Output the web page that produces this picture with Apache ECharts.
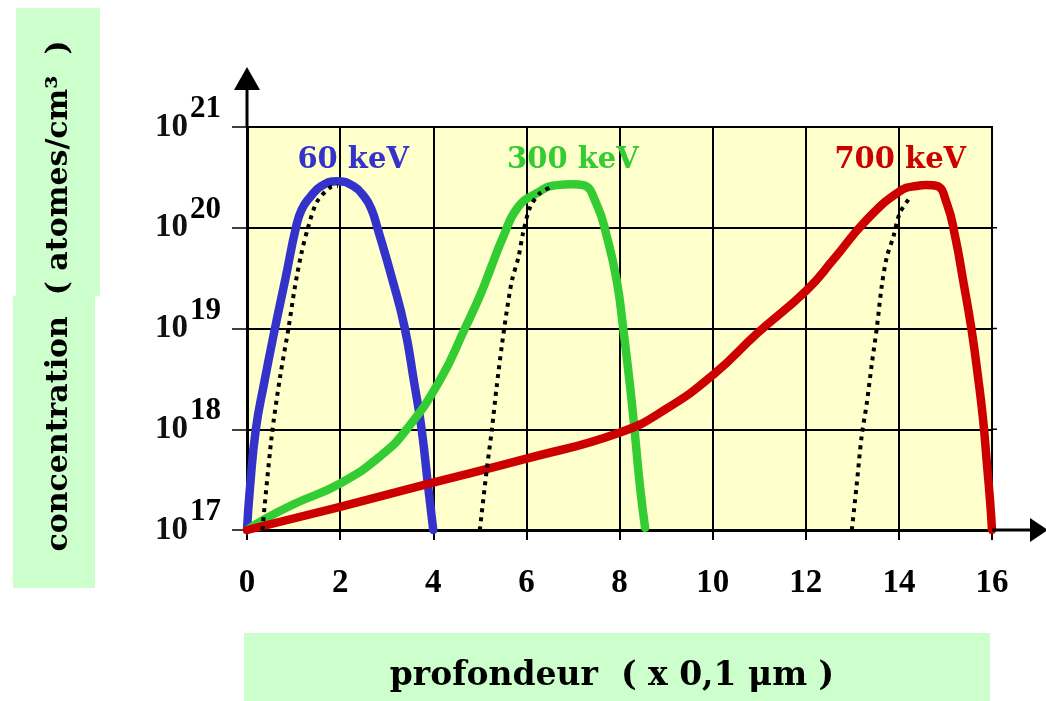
<!DOCTYPE html>
<html><head><meta charset="utf-8">
<script src="https://cdn.jsdelivr.net/npm/echarts@6/dist/echarts.min.js"></script>
<style>html,body{margin:0;padding:0;background:#fff}#c{width:1046px;height:701px}</style>
</head><body><div id="c"></div>
<script>
// ---- data (depth in units of 0.1 µm, concentration in atoms/cm³) ----
const xTicks = [0, 2, 4, 6, 8, 10, 12, 14, 16];
const yTicks = [1e17, 1e18, 1e19, 1e20, 1e21];

const kev60X = [0, 0.06, 0.19, 0.37, 0.6, 0.83, 1.05, 1.17, 1.35, 1.6, 1.93, 2.28, 2.53, 2.68, 2.8, 3.11, 3.39, 3.59, 3.75, 3.89, 4.0];
const kev60Y = [1e17, 2.5e17, 1e18, 2.9e18, 1e19, 3.2e19, 1e20, 1.5e20, 2.0e20, 2.6e20, 2.9e20, 2.6e20, 2.0e20, 1.5e20, 1e20, 3.2e19, 1e19, 2.9e18, 1e18, 2.7e17, 1e17];

const kev300X = [0, 0.35, 1.0, 2.0, 2.86, 3.43, 4.15, 4.68, 5.0, 5.22, 5.5, 5.82, 6.22, 6.65, 7.0, 7.22, 7.51, 7.73, 7.94, 8.08, 8.23, 8.33, 8.44, 8.55];
const kev300Y = [1e17, 1.26e17, 1.8e17, 2.9e17, 5.4e17, 1.0e18, 3.1e18, 1e19, 2.1e19, 3.8e19, 8.1e19, 1.6e20, 2.2e20, 2.65e20, 2.7e20, 2.65e20, 1.7e20, 8.1e19, 3.0e19, 1e19, 2.6e18, 9.1e17, 2.7e17, 1.05e17];

const kev700X = [0, 2.0, 3.93, 6.0, 8.01, 9.01, 10.05, 10.95, 12.02, 12.59, 13.31, 14.02, 14.38, 14.6, 14.81, 15.03, 15.21, 15.38, 15.56, 15.7, 15.81, 15.89, 15.96, 16.0];
const kev700Y = [1e17, 1.7e17, 2.9e17, 5.1e17, 9.3e17, 1.6e18, 3.6e18, 8.9e18, 2.4e19, 4.8e19, 1.2e20, 2.3e20, 2.6e20, 2.65e20, 2.6e20, 1.74e20, 8.1e19, 3.0e19, 9.8e18, 3.3e18, 1.23e18, 4.6e17, 1.9e17, 1e17];

const gauss60X = [0.33, 0.53, 0.71, 0.89, 1.03, 1.17, 1.31, 1.5, 1.78, 1.95];
const gauss60Y = [1e17, 8.5e17, 3.3e18, 1e19, 2.6e19, 5.6e19, 1.0e20, 1.8e20, 2.5e20, 2.6e20];

const gauss300X = [5.0, 5.15, 5.26, 5.36, 5.47, 5.58, 5.69, 5.83, 5.93, 6.08, 6.29, 6.58];
const gauss300Y = [1e17, 4e17, 1e18, 2.6e18, 6.6e18, 1.5e19, 3.0e19, 5.1e19, 8.9e19, 1.6e20, 2.2e20, 2.6e20];

const gauss700X = [12.99, 13.09, 13.2, 13.31, 13.42, 13.53, 13.63, 13.74, 13.88, 14.02, 14.24];
const gauss700Y = [1e17, 2.7e17, 8.5e17, 1.8e18, 4.5e18, 1.05e19, 2.6e19, 5.1e19, 8.1e19, 1.4e20, 2.0e20];

const energyLabels = ['60 keV', '300 keV', '700 keV'];
const energyLabelX = [2.28, 7.0, 14.03];
const energyLabelY = [4.7e20, 4.7e20, 4.7e20];
const xTitle = 'profondeur  ( x 0,1 \u03BCm )';
const yTitle = 'concentration  ( atomes/cm\u00B3  )';

// ---- layout ----
const G = {left: 247, top: 127, width: 745, height: 403};
const SERIF = '"Liberation Serif", "DejaVu Serif", serif';
const WIDE = '"DejaVu Serif", serif';
const pairs = (xs, ys) => xs.map((x, i) => [x, ys[i]]);

const chart = echarts.init(document.getElementById('c'), null, {renderer: 'canvas'});

function lineSeries(name, xs, ys, color, width, dotted) {
  return {
    name, type: 'line', data: pairs(xs, ys), smooth: dotted ? 0.3 : 0.5, symbol: 'none',
    lineStyle: {color, width, type: dotted ? [4, 5] : 'solid', cap: dotted ? 'butt' : 'round', join: 'round'},
    clip: false, silent: true, animation: false
  };
}

const B = G.left + G.width, Bt = G.top + G.height;
const option = {
  animation: false,
  backgroundColor: '#ffffff',
  grid: {left: G.left, top: G.top, width: G.width, height: G.height, show: true,
         backgroundColor: '#ffffcc', borderColor: '#000', borderWidth: 2},
  xAxis: {
    type: 'value', min: xTicks[0], max: xTicks[xTicks.length - 1], interval: 2,
    axisLine: {lineStyle: {color: '#000', width: 3}},
    axisTick: {show: true, length: 10, lineStyle: {color: '#000', width: 2}},
    splitLine: {show: true, lineStyle: {color: '#000', width: 2}},
    axisLabel: {margin: 37, color: '#000', fontFamily: SERIF, fontWeight: 'bold', fontSize: 33}
  },
  yAxis: {
    type: 'log', logBase: 10, min: yTicks[0], max: yTicks[yTicks.length - 1],
    axisLine: {show: true, lineStyle: {color: '#000', width: 3}},
    axisTick: {show: true, length: 15, lineStyle: {color: '#000', width: 1.5}},
    minorTick: {show: false},
    splitLine: {show: true, lineStyle: {color: '#000', width: 2}},
    axisLabel: {
      margin: 26, color: '#000',
      formatter: v => '{b|10}{s|' + Math.round(Math.log10(v)) + '}',
      rich: {
        b: {fontFamily: SERIF, fontWeight: 'bold', fontSize: 33, color: '#111'},
        s: {fontFamily: SERIF, fontWeight: 'bold', fontSize: 31, color: '#000', padding: [0, 0, 36, 2]}
      }
    }
  },
  series: [
    lineSeries(energyLabels[0], kev60X, kev60Y, '#3333cc', 8.5, false),
    lineSeries(energyLabels[1], kev300X, kev300Y, '#33cc33', 8.5, false),
    lineSeries(energyLabels[2], kev700X, kev700Y, '#cc0000', 8.5, false),
    lineSeries('g60', gauss60X, gauss60Y, '#000', 4, true),
    lineSeries('g300', gauss300X, gauss300Y, '#000', 4, true),
    lineSeries('g700', gauss700X, gauss700Y, '#000', 4, true)
  ],
  graphic: [
    // axis title boxes
    {type: 'rect', shape: {x: 16, y: 8, width: 84, height: 288}, style: {fill: '#ccffcc'}, z: 0},
    {type: 'rect', shape: {x: 13, y: 296, width: 82, height: 292}, style: {fill: '#ccffcc'}, z: 0},
    {type: 'rect', shape: {x: 244, y: 633, width: 746, height: 68}, style: {fill: '#ccffcc'}, z: 0},
    {type: 'text', x: 59, y: 296, rotation: Math.PI / 2, z: 5,
     style: {text: yTitle, fill: '#000', font: 'bold 30px ' + WIDE, textAlign: 'center', textVerticalAlign: 'middle'}},
    {type: 'text', x: 612, y: 676, z: 5,
     style: {text: xTitle, fill: '#000', font: 'bold 33px ' + WIDE, textAlign: 'center', textVerticalAlign: 'middle'}},
    // axis arrows
    {type: 'line', shape: {x1: G.left, y1: G.top, x2: G.left, y2: 88}, style: {stroke: '#000', lineWidth: 3}, z: 10},
    {type: 'polygon', shape: {points: [[G.left - 13, 90], [G.left + 13, 90], [G.left, 67]]}, style: {fill: '#000'}, z: 10},
    {type: 'line', shape: {x1: B, y1: Bt, x2: 1032, y2: Bt}, style: {stroke: '#000', lineWidth: 3}, z: 10},
    {type: 'polygon', shape: {points: [[1030, Bt - 12], [1030, Bt + 12], [1048, Bt]]}, style: {fill: '#000'}, z: 10}
  ]
};
chart.setOption(option);

// energy labels placed in data coordinates above each peak
const labelColors = ['#3333cc', '#33cc33', '#cc0000'];
const extra = energyLabels.map((t, i) => {
  const px = chart.convertToPixel({gridIndex: 0}, [energyLabelX[i], energyLabelY[i]]);
  return {type: 'text', x: px[0], y: px[1], z: 12,
          style: {text: t, fill: labelColors[i], font: 'bold 29px ' + WIDE,
                  textAlign: 'center', textVerticalAlign: 'middle'}};
});
// small ticks on right border at each decade
const rightTicks = yTicks.slice(0, -1).map(v => {
  const py = chart.convertToPixel({yAxisIndex: 0}, v);
  return {type: 'line', shape: {x1: B, y1: py, x2: B + 5, y2: py}, style: {stroke: '#000', lineWidth: 1.5}, z: 10};
});
chart.setOption({graphic: option.graphic.concat(extra, rightTicks)});
</script></body></html>
